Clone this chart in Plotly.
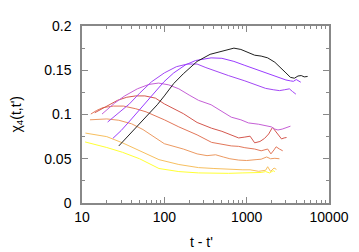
import plotly.graph_objects as go

# ---- data (t - t', chi_4) ----
t_black = [28, 35, 45, 60, 82, 100, 130, 170, 250, 360, 480, 600, 700, 850, 1000, 1250, 1500, 1800, 2200, 2600, 3000, 3400, 3800, 4200, 4600, 5000, 5500]
y_black = [0.0645, 0.074, 0.085, 0.097, 0.111, 0.121, 0.135, 0.146, 0.160, 0.168, 0.171, 0.173, 0.175, 0.1735, 0.171, 0.167, 0.166, 0.164, 0.159, 0.153, 0.147, 0.142, 0.141, 0.1435, 0.144, 0.1425, 0.143]

t_a = [23.7, 30, 40, 54, 70, 99, 130, 180, 240, 370, 500, 700, 950, 1300, 1800, 2400, 3000, 3400, 3700, 4000, 4300, 4540]
y_a = [0.073, 0.082, 0.095, 0.109, 0.121, 0.137, 0.147, 0.156, 0.161, 0.164, 0.1635, 0.160, 0.1555, 0.151, 0.146, 0.142, 0.139, 0.138, 0.1375, 0.1395, 0.138, 0.1365]

t_b = [20.5, 28, 37.7, 50, 70, 100, 140, 190, 250, 320, 420, 600, 950, 1300, 1700, 2100, 2500, 2900, 3300, 3600, 3960]
y_b = [0.0915, 0.102, 0.112, 0.124, 0.137, 0.147, 0.154, 0.157, 0.157, 0.153, 0.149, 0.144, 0.138, 0.133, 0.1295, 0.128, 0.127, 0.128, 0.129, 0.126, 0.123]

t_c = [17.5, 20, 25, 33, 47, 65, 85, 113, 150, 200, 260, 370, 500, 650, 850, 1050, 1400, 1650, 2000, 2200, 2400, 2700, 3000, 3400]
y_c = [0.1005, 0.105, 0.113, 0.121, 0.129, 0.134, 0.1355, 0.1335, 0.129, 0.122, 0.116, 0.111, 0.103, 0.097, 0.094, 0.0905, 0.089, 0.088, 0.086, 0.0835, 0.0825, 0.0835, 0.085, 0.0868]

t_d = [14.3, 17, 21, 27, 35, 45, 58, 78, 100, 130, 170, 250, 375, 500, 650, 800, 950, 1100, 1250, 1450, 1650, 1850, 2060, 2250, 2450, 2650, 2850, 3050]
y_d = [0.102, 0.106, 0.111, 0.116, 0.1195, 0.121, 0.121, 0.1185, 0.112, 0.107, 0.101, 0.091, 0.0845, 0.081, 0.077, 0.0735, 0.0745, 0.0755, 0.068, 0.0695, 0.073, 0.078, 0.0855, 0.081, 0.0765, 0.0724, 0.0735, 0.074]

t_e = [12.8, 15, 18, 24, 32, 45, 60, 86, 100, 150, 250, 375, 500, 650, 800, 950, 1250, 1500, 1800, 1970, 2150, 2280, 2500, 2740]
y_e = [0.1005, 0.1045, 0.1078, 0.1095, 0.1095, 0.1065, 0.103, 0.097, 0.094, 0.086, 0.077, 0.0685, 0.066, 0.0645, 0.064, 0.0625, 0.061, 0.059, 0.061, 0.0555, 0.060, 0.0635, 0.061, 0.059]

t_f = [12.5, 16, 20, 28, 40, 55, 86, 100, 170, 250, 330, 420, 520, 625, 800, 1000, 1300, 1500, 1750, 1950, 2200, 2500]
y_f = [0.094, 0.0948, 0.095, 0.0935, 0.0895, 0.083, 0.071, 0.067, 0.061, 0.0555, 0.0535, 0.0545, 0.052, 0.050, 0.0485, 0.048, 0.049, 0.0495, 0.052, 0.050, 0.0505, 0.050]

t_g = [11, 15, 20, 31, 50, 86, 150, 260, 400, 600, 900, 1100, 1400, 1700, 1800, 1950, 2150, 2300]
y_g = [0.079, 0.077, 0.075, 0.068, 0.059, 0.049, 0.0435, 0.040, 0.039, 0.038, 0.0375, 0.0375, 0.0358, 0.037, 0.041, 0.0357, 0.0395, 0.038]

t_h = [10.9, 15, 20, 31, 50, 86, 150, 260, 400, 600, 900, 1200, 1500, 1700, 1900, 2100, 2200]
y_h = [0.069, 0.066, 0.0627, 0.0573, 0.050, 0.039, 0.0355, 0.034, 0.0335, 0.0335, 0.034, 0.034, 0.0345, 0.0355, 0.034, 0.0365, 0.0355]

x_tickvals = [10, 100, 1000, 10000]
x_ticktext = ["10", "100", "1000", "10000"]
x_minor = [20, 30, 40, 50, 60, 70, 80, 90, 200, 300, 400, 500, 600, 700, 800, 900,
           2000, 3000, 4000, 5000, 6000, 7000, 8000, 9000]

series = [
    (t_h, y_h, "#ffff33"),
    (t_g, y_g, "#f7bf5f"),
    (t_f, y_f, "#ec9a62"),
    (t_e, y_e, "#e2775a"),
    (t_d, y_d, "#d4574e"),
    (t_c, y_c, "#c55fd6"),
    (t_b, y_b, "#a347f5"),
    (t_a, y_a, "#9a3cff"),
    (t_black, y_black, "#202020"),
]

fig = go.Figure()
for tx, ty, col in series:
    fig.add_trace(go.Scatter(x=tx, y=ty, mode="lines",
                             line=dict(color=col, width=1), showlegend=False,
                             hoverinfo="skip"))

axis_col = "#888888"
fig.update_xaxes(type="log", range=[1, 4], tickvals=x_tickvals, ticktext=x_ticktext,
                 ticks="inside", ticklen=6, tickcolor=axis_col, tickwidth=1,
                 minor=dict(tickvals=x_minor, ticks="inside", ticklen=3,
                            tickcolor=axis_col, tickwidth=1),
                 showline=True, linecolor=axis_col, linewidth=1.5, mirror="allticks",
                 showgrid=False, zeroline=False,
                 tickfont=dict(family="Liberation Sans, Arial", size=14, color="#000"))
fig.update_yaxes(range=[0, 0.2], dtick=0.05, tick0=0,
                 ticks="inside", ticklen=6, tickcolor=axis_col, tickwidth=1,
                 minor=dict(dtick=0.025, ticks="inside", ticklen=3,
                            tickcolor=axis_col, tickwidth=1),
                 showline=True, linecolor=axis_col, linewidth=1.5, mirror="allticks",
                 showgrid=False, zeroline=False, ticklabelstandoff=6,
                 tickfont=dict(family="Liberation Sans, Arial", size=14, color="#000"))

fig.add_annotation(text="t - t'", xref="paper", yref="paper", x=0.5, y=0,
                   xanchor="center", yanchor="middle", xshift=-4, yshift=-39,
                   showarrow=False, font=dict(family="Liberation Sans, Arial", size=14, color="#000"))
fig.add_annotation(text="χ<sub>4</sub>(t,t')", xref="paper", yref="paper", x=0, y=0.5,
                   xanchor="center", yanchor="middle", xshift=-66, textangle=-90,
                   showarrow=False, font=dict(family="Liberation Sans, Arial", size=14, color="#000"))

# page body has an 8px margin, so the figure is sized to fit the window
fig.update_layout(width=351, height=244, margin=dict(l=74, r=27, t=10, b=49),
                  paper_bgcolor="white", plot_bgcolor="white")

fig.write_html("out.html")
